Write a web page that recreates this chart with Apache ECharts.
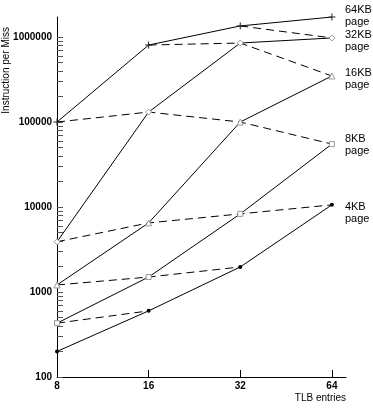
<!DOCTYPE html>
<html><head><meta charset="utf-8">
<script src="https://cdn.jsdelivr.net/npm/echarts@6/dist/echarts.min.js"></script>
<style>html,body{margin:0;padding:0;background:#fff}#c{width:373px;height:409px}</style>
</head><body><div id="c"></div>
<script>
// TLB entries (x) and instructions per miss (y) per page size
const tlbEntries = [8, 16, 32, 64];
const page64KB = [100000, 805000, 1350000, 1720000];
const page32KB = [3900, 131000, 850000, 975000];
const page16KB = [1210, 6500, 100000, 348000];
const page8KB = [430, 1500, 8300, 55000];
const page4KB = [200, 600, 1970, 10600];
const pageNames = ['64KB\npage', '32KB\npage', '16KB\npage', '8KB\npage', '4KB\npage'];
const yTickLabels = [100, 1000, 10000, 100000, 1000000];
const xTickLabels = [8, 16, 32, 64];

const pages = [page64KB, page32KB, page16KB, page8KB, page4KB];
const FONT = '"Liberation Sans", Arial, sans-serif';

const yMinor = [];
for (let d = 100; d < 1000000; d *= 10) for (let m = 1; m < 10; m++) yMinor.push(d * m);
yMinor.push(1000000);

const symbols = [
  {symbol: 'path://M0,5L10,5M5,0L5,10', size: 7, style: {color: 'none', borderColor: '#222', borderWidth: 1}},
  {symbol: 'diamond', size: 6, style: {color: '#fff', borderColor: '#999', borderWidth: 1}},
  {symbol: 'triangle', size: 6, style: {color: '#fff', borderColor: '#999', borderWidth: 1}},
  {symbol: 'rect', size: 5, style: {color: '#fff', borderColor: '#999', borderWidth: 1}},
  {symbol: 'circle', size: 4, style: {color: '#000', borderColor: '#000', borderWidth: 0}}
];
const labelDy = [-1, 3, 3, 1, 8];

const series = [];
// dashed lines: equal TLB reach (entries x page size constant)
for (let c = -3; c <= 3; c++) {
  const data = [];
  for (let i = 0; i < tlbEntries.length; i++) {
    const k = i - c;
    if (k >= 0 && k < pages.length) data.push([tlbEntries[i], pages[k][i]]);
  }
  if (data.length > 1) series.push({
    type: 'line', data, symbol: 'none', z: 1, silent: true,
    lineStyle: {color: '#000', width: 1, type: [8, 5]}
  });
}
pages.forEach((p, k) => {
  series.push({
    type: 'line', z: 2, silent: true,
    data: tlbEntries.map((x, i) => [x, p[i]]),
    symbol: symbols[k].symbol, symbolSize: symbols[k].size, showAllSymbol: true,
    itemStyle: symbols[k].style,
    lineStyle: {color: '#000', width: 1},
    endLabel: {show: true, formatter: pageNames[k], color: '#000', fontSize: 11, lineHeight: 12,
      fontFamily: FONT, distance: 0, offset: [13, labelDy[k]], align: 'left', verticalAlign: 'middle'}
  });
});

const chart = echarts.init(document.getElementById('c'), null, {renderer: 'canvas'});
chart.setOption({
  animation: false,
  grid: {left: 57, top: 17, right: 27, bottom: 32, containLabel: false},
  xAxis: {
    type: 'log', logBase: 2, min: 8, max: 71.2,
    name: 'TLB entries', nameLocation: 'end', nameGap: 0,
    nameTextStyle: {color: '#000', fontSize: 10, fontFamily: FONT, align: 'right', verticalAlign: 'top', padding: [16, 0, 0, 0]},
    axisLine: {lineStyle: {color: '#000', width: 1}},
    axisTick: {inside: true, length: 7, customValues: xTickLabels, lineStyle: {color: '#000'}},
    axisLabel: {customValues: xTickLabels, color: '#000', fontWeight: 'bold', fontSize: 10, fontFamily: FONT, margin: 4,
      formatter: v => String(Math.round(v))},
    splitLine: {show: false}, minorTick: {show: false}
  },
  yAxis: {
    type: 'log', logBase: 10, min: 100, max: 1720000,
    axisLine: {show: true, lineStyle: {color: '#000', width: 1}},
    axisTick: {inside: true, length: 6, customValues: yMinor, lineStyle: {color: '#555'}},
    axisLabel: {customValues: yTickLabels, color: '#000', fontWeight: 'bold', fontSize: 10, fontFamily: FONT, margin: 5,
      formatter: v => String(Math.round(v))},
    splitLine: {show: false}
  },
  graphic: [{
    type: 'text', x: 6, y: 27, rotation: Math.PI / 2,
    style: {text: 'Instruction per Miss', fill: '#000', font: '10px ' + FONT, align: 'right', verticalAlign: 'middle'}
  }],
  series
});
</script>
</body></html>
